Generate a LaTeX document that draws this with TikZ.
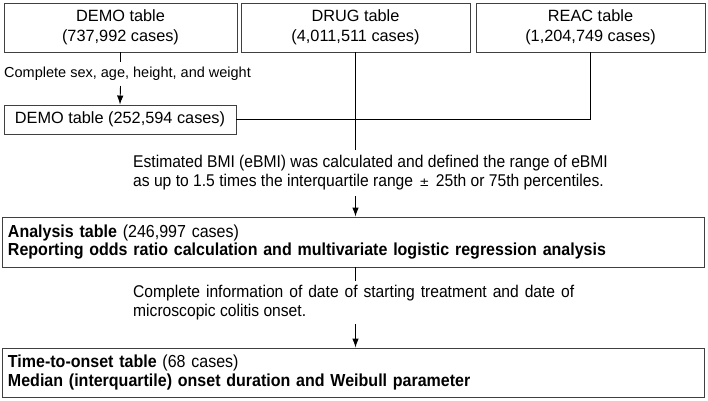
\documentclass[tikz,border=0pt]{standalone}
\usepackage{fontspec}
\setmainfont{Liberation Sans}
\newfontfamily\narrowfont[FakeStretch=0.92]{Liberation Sans}
\usetikzlibrary{positioning}
\usetikzlibrary{arrows.meta}
\tikzset{x=1pt, y=-1pt,
srcbox/.style={
draw=black!75,
line width=0.9pt,
align=center,
inner sep=0pt,
font=\fontsize{16.3}{20}\selectfont},
widebox/.style={
draw=black!75,
line width=0.9pt,
align=left,
text width=690pt,
minimum width=702pt,
minimum height=50pt,
inner xsep=6pt,
font=\narrowfont\fontsize{17.4}{18.5}\selectfont},
note/.style={
align=left,
inner sep=0pt,
font=\narrowfont\fontsize{17}{18.5}\selectfont},
flow/.style={
draw,
line width=0.9pt},
every edge/.style={
draw,
-{Latex[length=9pt,width=6.5pt]},
line width=0.9pt}}

\begin{document}
\begin{tikzpicture}
\useasboundingbox (0,0) rectangle (708,400);
% source tables
\node[srcbox, minimum width=233pt, minimum height=49pt] (demo) at (120.5,27.5) {DEMO table\\(737,992 cases)};
\node[srcbox, minimum width=229pt, minimum height=49pt] (drug) at (355.5,27.5) {DRUG table\\(4,011,511 cases)};
\node[srcbox, minimum width=229pt, minimum height=49pt] (reac) at (590.5,27.5) {REAC table\\(1,204,749 cases)};
\node[srcbox, minimum width=232pt, minimum height=29pt] (demo2) at (120,119.5) {DEMO table (252,594 cases)};
\node[note, font=\fontsize{14.5}{18}\selectfont, anchor=west] (cond1) at (4,74) {Complete sex, age, height, and weight};
% merged tables
\node[note, anchor=north west] (bmi) at (133,155) {Estimated BMI (eBMI) was calculated and defined the range of eBMI\\as up to 1.5 times the interquartile range {\fontspec{DejaVu Sans}\fontsize{12}{18}\selectfont\,±\,} 25th or 75th percentiles.};
\node[widebox] (analysis) at (353,242) {\textbf{Analysis table} (246,997 cases)\\\textbf{Reporting odds ratio calculation and multivariate logistic regression analysis}};
\node[note, anchor=north west, text width=441pt, align=justify] (cond2) at (133,285) {\hyphenpenalty=10000 Complete information of date of starting treatment and date of microscopic colitis onset.};
\node[widebox, minimum height=49pt] (onset) at (353,372.5) {\textbf{Time-to-onset table} (68 cases)\\\textbf{Median (interquartile) onset duration and Weibull parameter}};
\coordinate (drugend) at (drug.south |- 0,150);
\coordinate (bmitop) at (drug.south |- 0,196);
\coordinate (anatop) at (drug.south |- analysis.north);
\coordinate (onsetend) at (drug.south |- 0,281);
\coordinate (onsetstart) at (drug.south |- 0,324);
\coordinate (onsettop) at (drug.south |- onset.north);
% connectors
\draw[flow] (demo.south) -- (demo.south |- 0,62);
\draw (demo.south |- 0,86) edge (demo2.north);
\draw[flow] (demo2.east) -| (reac.south);
\draw[flow] (drug.south) -- (drugend);
\draw (bmitop) edge (anatop);
\draw[flow] (analysis.south -| drug.south) -- (onsetend);
\draw (onsetstart) edge (onsettop);
\end{tikzpicture}
\end{document}
